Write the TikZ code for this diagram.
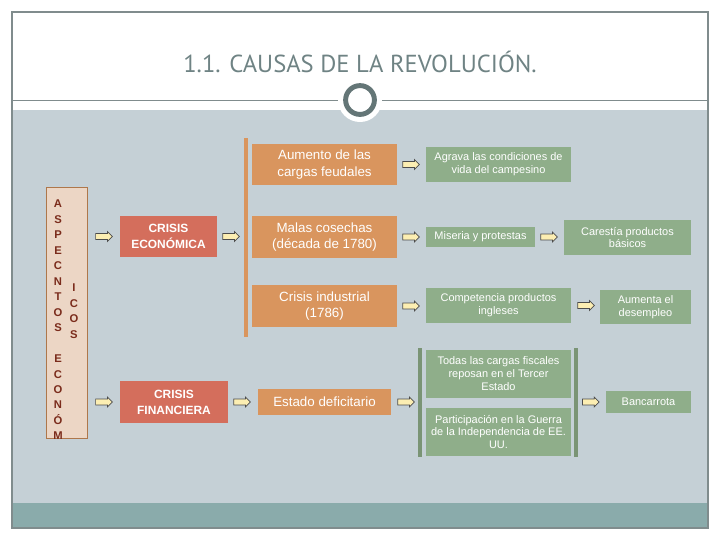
\documentclass[tikz,border=0pt]{standalone}
\usepackage{fontspec}
\setmainfont{Liberation Sans}
\newfontfamily\titulofont{PT Sans}
\usepackage{xcolor}
\usepackage{tikz}
\usetikzlibrary{arrows.meta}
\usetikzlibrary{positioning}
\usetikzlibrary{shapes.arrows}

\definecolor{colFondo}{RGB}{197,208,214}
\definecolor{colBanda}{RGB}{138,171,171}
\definecolor{colMarco}{RGB}{128,140,141}
\definecolor{colTitulo}{RGB}{111,131,132}
\definecolor{colRojo}{RGB}{212,110,92}
\definecolor{colNaranja}{RGB}{217,149,94}
\definecolor{colVerde}{RGB}{143,174,138}
\definecolor{colRosado}{RGB}{236,214,197}
\definecolor{colLetra}{RGB}{123,44,28}
\definecolor{colCrema}{RGB}{252,238,178}

\begin{document}
\begin{tikzpicture}[x=0.025cm, y=-0.025cm,
    caja/.style={align=center, inner sep=0pt, text=white},
    roja/.style={caja, fill=colRojo, font=\fontsize{8.5}{11.4}\selectfont\bfseries},
    naranja/.style={caja, fill=colNaranja, font=\fontsize{9.5}{11.5}\selectfont},
    verde/.style={caja, fill=colVerde, font=\fontsize{7.8}{9.2}\selectfont},
    flecha/.style={single arrow, draw=black!70, fill=colCrema, line width=0.5pt,
        minimum height=0.42cm, minimum width=0.25cm, inner sep=0.065cm,
        single arrow head extend=0.05cm},
    letras/.style={align=center, inner sep=0pt, text=colLetra,
        font=\fontsize{8}{11}\selectfont\bfseries},
    corchete/.style={line width=2.2pt}
]
\useasboundingbox (0,0) rectangle (720,540);

% Fondo
\fill[colFondo] (12,110) rectangle (708,503);
\fill[colBanda] (12,503) rectangle (708,528);
\draw[colMarco, line width=0.6pt] (12,100) -- (708,100);
\fill[white] (360,100) circle (0.55cm);
\draw[colTitulo!90!black, line width=3.5pt, fill=white] (360,100) circle (0.36cm);
\draw[colMarco, line width=0.8pt] (12,12) rectangle (708,528);

\node[font=\titulofont\fontsize{17.5}{20}\selectfont, text=colTitulo] (titulo) at (360,62) {1.1. CAUSAS DE LA REVOLUCIÓN.};

% Aspectos economicos
\node[draw=colNaranja!80!black, fill=colRosado, minimum width=1.025cm, minimum height=6.275cm, inner sep=0pt] (aspectos) at (66.5,312.5) {};
\node[letras] (col1) at (58,320) {A\\S\\P\\E\\C\\N\\T\\O\\S\\~\\E\\C\\O\\N\\Ó\\M};
\node[letras] (col2) at (74,311) {I\\C\\O\\S};

% Crisis
\node[roja, minimum width=2.425cm, minimum height=1.025cm] (crisisEco) at (168.5,236.5) {CRISIS\\ECONÓMICA};
\node[roja, minimum width=2.7cm, minimum height=1.05cm] (crisisFin) at (174,402) {CRISIS\\FINANCIERA};

% Causas
\node[naranja, minimum width=3.625cm, minimum height=1.025cm] (aumento) at (324.5,164.5) {Aumento de las\\cargas feudales};
\node[naranja, minimum width=3.625cm, minimum height=1.05cm] (malas) at (324.5,237) {Malas cosechas\\(década de 1780)};
\node[naranja, minimum width=3.625cm, minimum height=1.05cm] (industrial) at (324.5,306) {Crisis industrial\\(1786)};
\node[naranja, minimum width=3.325cm, minimum height=0.65cm] (deficitario) at (324.5,402) {Estado deficitario};

% Consecuencias
\node[verde, minimum width=3.625cm, minimum height=0.875cm] (agrava) at (498.5,164.5) {Agrava las condiciones de\\vida del campesino};
\node[verde, minimum width=2.725cm, minimum height=0.5cm] (miseria) at (480.5,237) {Miseria y protestas};
\node[verde, minimum width=3.175cm, minimum height=0.875cm] (carestia) at (627.5,237.5) {Carestía productos\\básicos};
\node[verde, minimum width=3.625cm, minimum height=0.875cm] (competencia) at (498.5,305.5) {Competencia productos\\ingleses};
\node[verde, minimum width=2.275cm, minimum height=0.85cm] (desempleo) at (645.5,307) {Aumenta el\\desempleo};
\node[verde, minimum width=3.625cm, minimum height=1.2cm] (todas) at (498.5,374) {Todas las cargas fiscales\\reposan en el Tercer\\Estado};
\node[verde, minimum width=3.625cm, minimum height=1.2cm] (guerra) at (498.5,432) {Participación en la Guerra\\de la Independencia de EE.\\UU.};
\node[verde, minimum width=2.125cm, minimum height=0.55cm] (bancarrota) at (648.5,402) {Bancarrota};

% Corchetes
\draw[corchete, colNaranja] (246,138) -- (246,337);
\draw[corchete, colVerde!85!black] (420,348) -- (420,457);
\draw[corchete, colVerde!85!black] (576,348) -- (576,457);

% Flechas
\node[flecha, left=0.17cm of crisisEco] (f1) {};
\node[flecha, right=0.125cm of crisisEco] (f2) {};
\node[flecha, left=0.17cm of crisisFin] (f3) {};
\node[flecha, right=0.125cm of crisisFin] (f4) {};
\node[flecha, right=0.125cm of aumento] (f5) {};
\node[flecha, right=0.125cm of malas] (f6) {};
\node[flecha, right=0.125cm of industrial] (f7) {};
\node[flecha, right=0.125cm of miseria] (f8) {};
\node[flecha, right=0.15cm of competencia] (f9) {};
\node[flecha, right=0.15cm of deficitario] (f10) {};
\node[flecha, left=0.15cm of bancarrota] (f11) {};

\end{tikzpicture}
\end{document}
